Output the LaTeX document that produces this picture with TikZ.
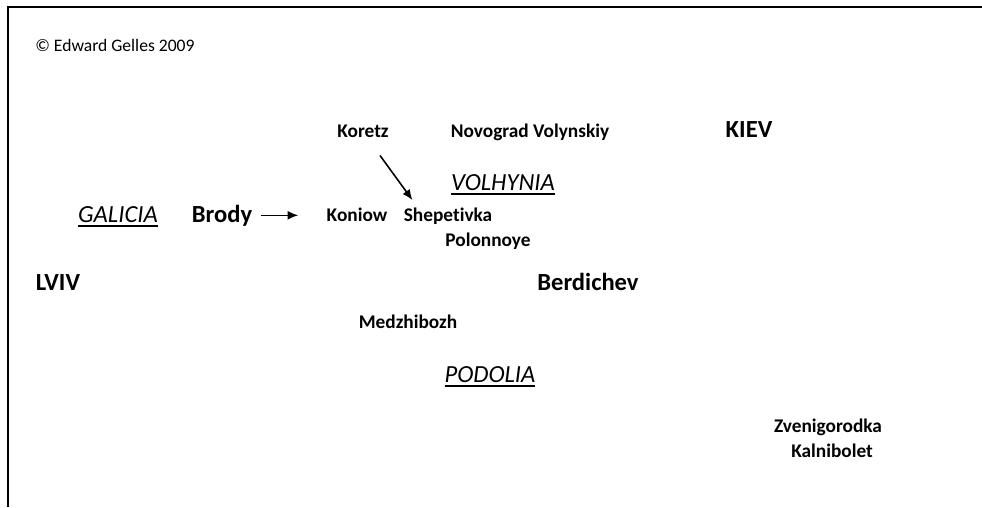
\documentclass[tikz,border=0pt]{standalone}
\usepackage{fontspec}
\setmainfont{Carlito}[Ligatures=NoCommon]
\usetikzlibrary{arrows,arrows.meta}

% region names: italic with a heavy underline
\newcommand{\regname}[1]{\setbox0=\hbox{#1}\hbox{\copy0\kern-\wd0\rule[-3pt]{\wd0}{1.1pt}}}

\begin{document}
\begin{tikzpicture}[x=0.02cm,y=-0.02cm]
  \fill[white] (0,0) rectangle (982,507);
  \useasboundingbox (0,0) rectangle (982,507);

  \tikzstyle{every node}=[inner sep=0pt,anchor=base]
  \tikzstyle{town}=[font=\fontsize{11}{13}\selectfont\bfseries]
  \tikzstyle{city}=[font=\fontsize{14}{16}\selectfont\bfseries]
  \tikzstyle{region}=[font=\fontsize{14}{16}\selectfont\itshape]
  \tikzstyle{every edge}=[-{Latex[length=6pt,width=5pt]},line width=0.9pt,draw]

  % cadre
  \draw[line width=1pt] (8,507) -- (8,7) -- (982,7);
  \node[anchor=base west,font=\fontsize{10}{12}\selectfont] (copy) at (35,51)
  {\textcopyright{} Edward Gelles 2009};

  % villes
  \node[town] (Koretz) at (363,137) {Koretz};
  \node[town] (Novograd) at (530,137) {Novograd Volynskiy};
  \node[city] (Kiev) at (749,137) {KIEV};
  \node[city] (Brody) at (222,222) {Brody};
  \node[town] (Koniow) at (357,221) {Koniow};
  \node[town] (Shepetivka) at (448,221) {Shepetivka};
  \node[town] (Polonnoye) at (488,246) {Polonnoye};
  \node[city] (Lviv) at (58,290) {LVIV};
  \node[city] (Berdichev) at (588,290) {Berdichev};
  \node[town] (Medzhibozh) at (408,328) {Medzhibozh};
  \node[town] (Zvenigorodka) at (828,432) {Zvenigorodka};
  \node[town] (Kalnibolet) at (832,457) {Kalnibolet};

  % regions
  \node[region] (Volhynia) at (503,190) {\regname{VOLHYNIA}};
  \node[region] (Galicia) at (118,222) {\regname{GALICIA}};
  \node[region] (Podolia) at (490,382) {\regname{PODOLIA}};

  % fleches
  \path (Brody.east) edge[shorten <=5pt,shorten >=16pt] (Brody.east -| Koniow.west)
  ([shift={(17,18)}]Koretz.south) edge ([shift={(9,-7)}]Shepetivka.north west);
\end{tikzpicture}
\end{document}
